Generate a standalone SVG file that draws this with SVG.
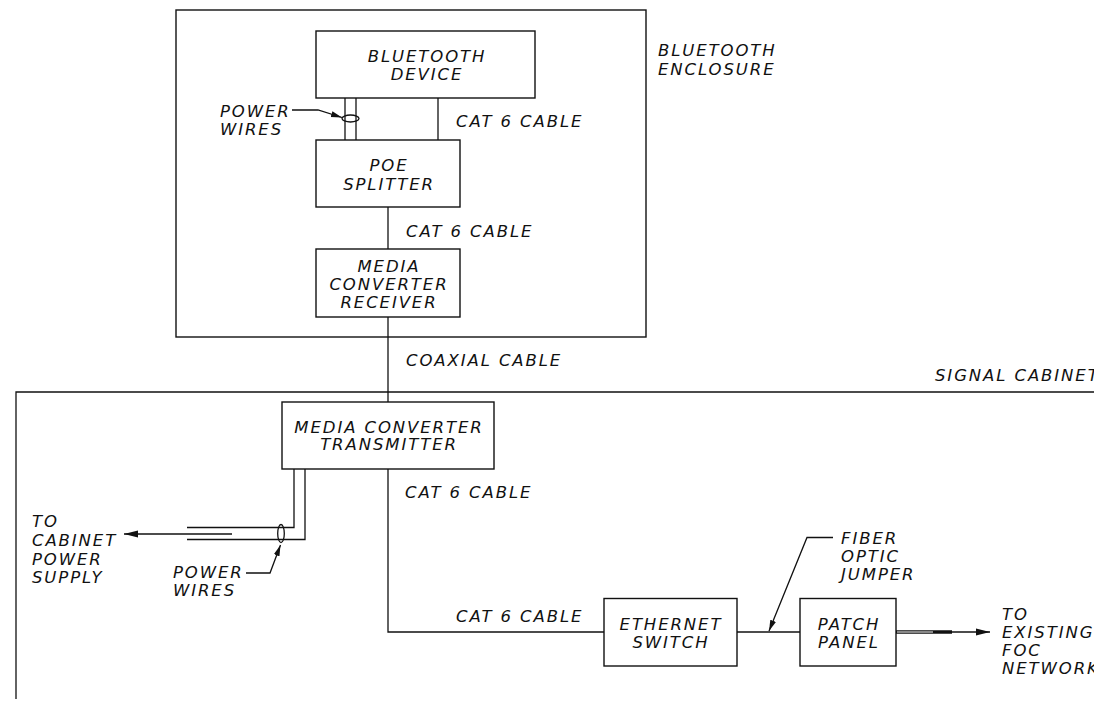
<svg xmlns="http://www.w3.org/2000/svg" width="1094" height="701" viewBox="0 0 1094 701">
<style>
  .bx { fill: #fff; stroke: #111; stroke-width: 1.4; }
  .ln { fill: none; stroke: #111; stroke-width: 1.3; }
  .t { font-family: "DejaVu Sans", "Liberation Sans", sans-serif; font-style: italic; font-weight: 200; font-size: 16.5px; letter-spacing: 1.9px; fill: #111; }
  .c { text-anchor: middle; }
</style>
<defs>
  <marker id="arr" markerWidth="14" markerHeight="8" refX="14" refY="4" orient="auto" markerUnits="userSpaceOnUse">
    <path d="M0,0.6 L14,4 L0,7.4 z" fill="#111"/>
  </marker>
  <marker id="arrs" markerWidth="11" markerHeight="7" refX="11" refY="3.5" orient="auto" markerUnits="userSpaceOnUse">
    <path d="M0,0.5 L11,3.5 L0,6.5 z" fill="#111"/>
  </marker>
</defs>
<rect width="1094" height="701" fill="#fff"/>

<g id="bluetooth-enclosure">
  <rect class="bx" x="176" y="10" width="470" height="327" fill="none"/>
  <text class="t" x="658" y="56">BLUETOOTH</text>
  <text class="t" x="658" y="75">ENCLOSURE</text>
</g>

<g id="signal-cabinet">
  <path class="ln" d="M16,699 V392 H1094"/>
  <text class="t" x="935" y="381">SIGNAL CABINET</text>
</g>

<g id="connectors">
  <line class="ln" x1="345" y1="98" x2="345" y2="140"/>
  <line class="ln" x1="356" y1="98" x2="356" y2="140"/>
  <ellipse class="ln" cx="350.5" cy="118.5" rx="8.5" ry="3.5"/>
  <polyline class="ln" points="292,110 318,110 342,117.5" marker-end="url(#arrs)"/>
  <line class="ln" x1="438" y1="98" x2="438" y2="140"/>
  <line class="ln" x1="388" y1="207" x2="388" y2="249"/>
  <line class="ln" x1="388" y1="317" x2="388" y2="402"/>
  <polyline class="ln" points="294,469 294,527.5 187,527.5"/>
  <polyline class="ln" points="305,469 305,539.5 187,539.5"/>
  <line class="ln" x1="232" y1="534" x2="124" y2="534" marker-end="url(#arr)"/>
  <ellipse class="ln" cx="281" cy="533.5" rx="3.3" ry="9"/>
  <polyline class="ln" points="246,573 270,573 280.5,545" marker-end="url(#arrs)"/>
  <polyline class="ln" points="388,469 388,632 604,632"/>
  <line class="ln" x1="737" y1="632" x2="800" y2="632"/>
  <polyline class="ln" points="833,537.5 807,537.5 769,631" marker-end="url(#arrs)"/>
  <line x1="896" y1="632" x2="952" y2="632" stroke="#111" stroke-width="3.6"/>
  <line x1="897" y1="632" x2="933" y2="632" stroke="#fff" stroke-width="1.1"/>
  <line class="ln" x1="951" y1="632" x2="990" y2="632" marker-end="url(#arr)"/>
</g>

<g id="bluetooth-device">
  <rect class="bx" x="316" y="31" width="219" height="67"/>
  <text class="t c" x="427" y="62">BLUETOOTH</text>
  <text class="t c" x="427" y="80">DEVICE</text>
</g>

<g id="poe-splitter">
  <rect class="bx" x="316" y="140" width="144" height="67"/>
  <text class="t c" x="389" y="171">POE</text>
  <text class="t c" x="389" y="189.5">SPLITTER</text>
</g>

<g id="media-converter-receiver">
  <rect class="bx" x="316" y="249" width="144" height="68"/>
  <text class="t c" x="389" y="272">MEDIA</text>
  <text class="t c" x="389" y="290">CONVERTER</text>
  <text class="t c" x="389" y="307.5">RECEIVER</text>
</g>

<g id="media-converter-transmitter">
  <rect class="bx" x="282" y="402" width="212" height="67"/>
  <text class="t c" x="389" y="432.5">MEDIA CONVERTER</text>
  <text class="t c" x="389" y="450">TRANSMITTER</text>
</g>

<g id="ethernet-switch">
  <rect class="bx" x="604" y="598.5" width="133" height="67.5"/>
  <text class="t c" x="671" y="630">ETHERNET</text>
  <text class="t c" x="671" y="648">SWITCH</text>
</g>

<g id="patch-panel">
  <rect class="bx" x="800" y="598.5" width="96" height="67.5"/>
  <text class="t c" x="849" y="630">PATCH</text>
  <text class="t c" x="849" y="648">PANEL</text>
</g>

<g id="labels">
  <text class="t" x="220" y="117">POWER</text>
  <text class="t" x="220" y="135">WIRES</text>
  <text class="t" x="456" y="127">CAT 6 CABLE</text>
  <text class="t" x="406" y="237">CAT 6 CABLE</text>
  <text class="t" x="406" y="366">COAXIAL CABLE</text>
  <text class="t" x="405" y="498">CAT 6 CABLE</text>
  <text class="t" x="456" y="622">CAT 6 CABLE</text>
  <text class="t" x="32" y="527">TO</text>
  <text class="t" x="32" y="546">CABINET</text>
  <text class="t" x="32" y="564.5">POWER</text>
  <text class="t" x="32" y="583">SUPPLY</text>
  <text class="t" x="173" y="578">POWER</text>
  <text class="t" x="173" y="596">WIRES</text>
  <text class="t" x="841" y="544">FIBER</text>
  <text class="t" x="841" y="562">OPTIC</text>
  <text class="t" x="841" y="580">JUMPER</text>
  <text class="t" x="1002" y="620">TO</text>
  <text class="t" x="1002" y="638">EXISTING</text>
  <text class="t" x="1002" y="656">FOC</text>
  <text class="t" x="1002" y="673.5">NETWORK</text>
</g>
</svg>
